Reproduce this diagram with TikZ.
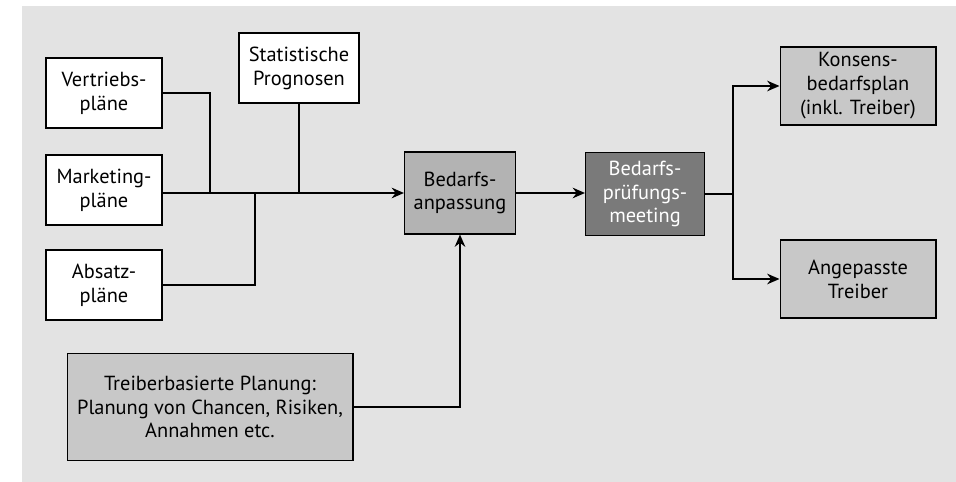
\documentclass[tikz,border=0pt]{standalone}
\usepackage{fontspec}
\setmainfont{PT Sans}
\usepackage{xcolor}
\usetikzlibrary{arrows.meta, positioning}

\definecolor{bggray}{HTML}{E3E3E3}
\definecolor{lightbox}{HTML}{C8C8C8}
\definecolor{midbox}{HTML}{B3B3B3}
\definecolor{darkbox}{HTML}{7A7A7A}

\tikzset{
    plan/.style={draw, line width=0.6pt, fill=white, align=center, minimum width=2.32cm, minimum height=1.4cm,
                 font=\fontsize{11.6}{13.6}\selectfont, inner sep=2pt},
    result/.style={plan, fill=lightbox, minimum width=3.12cm, minimum height=1.56cm},
    flow/.style={-{Stealth[length=7pt, width=6pt]}, line width=1.1pt},
    link/.style={line width=1.1pt}
}

\begin{document}
\begin{tikzpicture}[x=0.02cm, y=-0.02cm]
    % Background
    \useasboundingbox (0,0) rectangle (956,482);
    \fill[bggray] (22,6) rectangle (956,482);

    % Input plans
    \node[plan] (vertrieb) at (104,93) {Vertriebs-\\pläne};
    \node[plan] (marketing) at (104,190) {Marketing-\\pläne};
    \node[plan] (absatz) at (104,285) {Absatz-\\pläne};
    \node[plan, minimum width=2.4cm] (statistik) at (299,68) {Statistische\\Prognosen};

    % Middle steps
    \node[plan, fill=midbox, minimum width=2.22cm, minimum height=1.64cm] (anpassung) at (460,193) {Bedarfs-\\anpassung};
    \node[plan, fill=darkbox, text=white, minimum width=2.38cm, minimum height=1.66cm] (meeting) at (645,194) {Bedarfs-\\prüfungs-\\meeting};
    \node[result, minimum width=5.72cm, minimum height=2.14cm] (treiberplan) at (210,407) {Treiberbasierte Planung:\\Planung von Chancen, Risiken,\\Annahmen etc.};

    % Results
    \node[result] (konsens) at (858,86) {Konsens-\\bedarfsplan\\(inkl. Treiber)};
    \node[result] (angepasst) at (858,279) {Angepasste\\Treiber};

    % Joins
    \coordinate (j1) at (210,193);
    \coordinate (j2) at (255,193);
    \coordinate (split) at (733,194);

    % Connectors
    \draw[link] (vertrieb.east) -| (j1);
    \draw[link] (absatz.east) -| (j2);
    \draw[link] (statistik.south) -- (statistik.south |- j1);
    \draw[flow] (marketing.east |- j1) -- (anpassung.west);
    \draw[flow] (treiberplan.east) -| (anpassung.south);
    \draw[flow] (anpassung.east) -- (meeting.west |- anpassung.east);
    \draw[link] (meeting.east) -- (split);
    \draw[flow] (split) |- (konsens.west);
    \draw[flow] (split) |- (angepasst.west);
\end{tikzpicture}
\end{document}
